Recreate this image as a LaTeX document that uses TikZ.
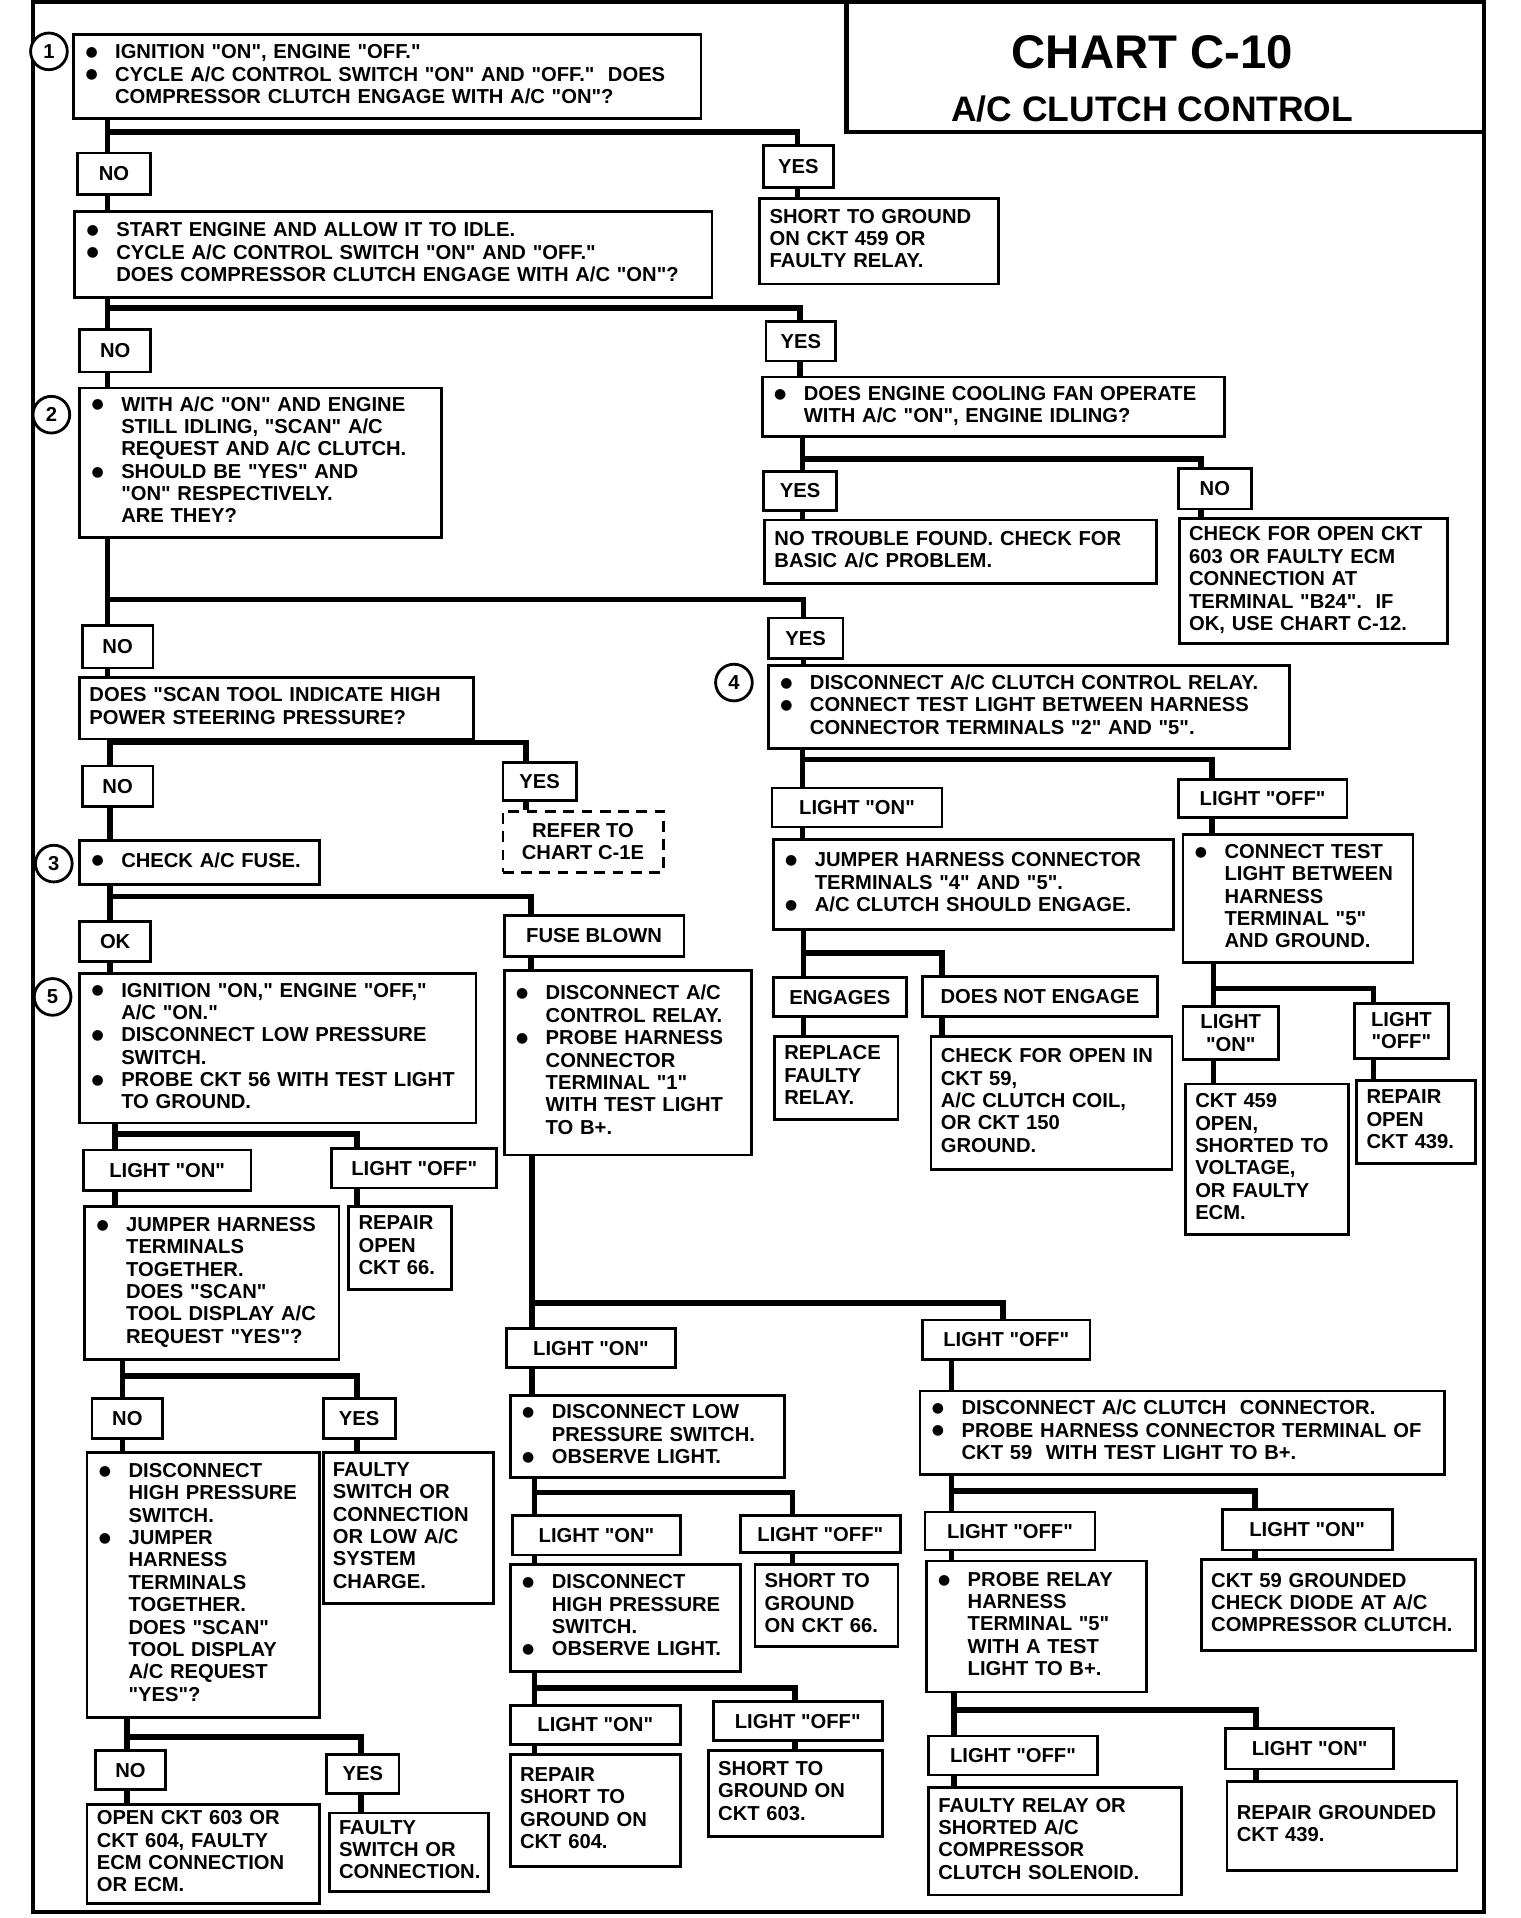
\documentclass[tikz,border=0pt]{standalone}
\usepackage{fontspec}
\setmainfont{Liberation Sans}[Ligatures=TeXOff]
\newfontfamily\dotfont{DejaVu Sans}
\newcommand\boxfont{\bfseries\fontsize{9.4}{10.4}\selectfont}
\newcommand\bitem{\makebox[0.52cm][l]{\hspace{1pt}\raisebox{1pt}{\dotfont\fontsize{6.5}{6.5}\selectfont ●}}}
\newcommand\bcont{\hspace*{0.52cm}}
\newcommand\boxlines[1]{\begin{tabular}{@{}l@{}}#1\end{tabular}}
\tikzset{
    frame/.style={line width=1.9pt},
    link/.style={line width=2.6pt},
    box/.style={draw, line width=1.3pt, fill=white, anchor=north west, inner xsep=0.16cm, inner ysep=1pt, font=\boxfont},
    tag/.style={draw, line width=1.3pt, fill=white, anchor=north west, inner sep=1pt, align=center, font=\boxfont},
    num/.style={circle, draw, line width=1.3pt, fill=white, minimum size=0.6cm, inner sep=0pt, font=\bfseries\fontsize{9.4}{10}\selectfont}
}

\begin{document}
\begin{tikzpicture}[
		x=0.02cm, y=-0.02cm,
		txt/.style 2 args={minimum width=#1*0.02cm, minimum height=#2*0.02cm, /utils/exec={\pgfmathsetlengthmacro\bxtw{#1*0.02cm-0.32cm}}, text width=\bxtw},
		wh/.style 2 args={minimum width=#1*0.02cm, minimum height=#2*0.02cm}
		]
		\useasboundingbox (0,0) rectangle (1243,1568);
		
		% --- FRAME AND TITLE ---
		\draw[frame] (27,2) rectangle (1213,1563);
		\draw[frame] (692,2) -- (692,108) -- (1213,108);
		\node[font=\bfseries\fontsize{22}{26}\selectfont] (chart) at (942,43) {CHART C-10};
		\node[font=\bfseries\fontsize{16.5}{20}\selectfont] (chartname) at (942,89) {A/C CLUTCH CONTROL};
		
		% --- STEP 1 ---
		\node[box, txt={513}{69}] (q1) at (59,27) {\boxlines{\bitem IGNITION "ON", ENGINE "OFF."\\ \bitem CYCLE A/C CONTROL SWITCH "ON" AND "OFF."\ \ DOES\\ \bcont COMPRESSOR CLUTCH ENGAGE WITH A/C "ON"?}};
		\node[tag, wh={60}{34}] (no1) at (62,124) {NO};
		\node[tag, wh={57}{34}] (yes1) at (623,118) {YES};
		\node[box, txt={195}{70}] (r1) at (620,161) {\boxlines{SHORT TO GROUND\\ ON CKT 459 OR\\ FAULTY RELAY.}};
		\node[box, txt={521}{70}] (q2) at (60,172) {\boxlines{\bitem START ENGINE AND ALLOW IT TO IDLE.\\ \bitem CYCLE A/C CONTROL SWITCH "ON" AND "OFF."\\ \bcont DOES COMPRESSOR CLUTCH ENGAGE WITH A/C "ON"?}};
		\node[tag, wh={58}{35}] (no2) at (64,268) {NO};
		\node[tag, wh={57}{32}] (yes2) at (625,262) {YES};
		
		% --- STEP 2 ---
		\node[box, txt={296}{122}] (q3) at (64,316) {\boxlines{\bitem WITH A/C "ON" AND ENGINE\\ \bcont STILL IDLING, "SCAN" A/C\\ \bcont REQUEST AND A/C CLUTCH.\\ \bitem SHOULD BE "YES" AND\\ \bcont "ON" RESPECTIVELY.\\ \bcont ARE THEY?}};
		\node[box, txt={378}{49}] (q4) at (622,307) {\boxlines{\bitem DOES ENGINE COOLING FAN OPERATE\\ \bcont WITH A/C "ON", ENGINE IDLING?}};
		\node[tag, wh={60}{32}] (yes4) at (623,384) {YES};
		\node[tag, wh={60}{33}] (no4) at (962,382) {NO};
		\node[box, txt={320}{52}] (r4a) at (624,424) {\boxlines{NO TROUBLE FOUND. CHECK FOR\\ BASIC A/C PROBLEM.}};
		\node[box, txt={219}{102}] (r4b) at (963,423) {\boxlines{CHECK FOR OPEN CKT\\ 603 OR FAULTY ECM\\ CONNECTION AT\\ TERMINAL "B24".\ \ IF\\ OK, USE CHART C-12.}};
		\node[tag, wh={58}{35}] (no3) at (66,510) {NO};
		\node[tag, wh={61}{33}] (yes3) at (627,504) {YES};
		
		% --- STEP 4 ---
		\node[box, txt={426}{68}] (q4b) at (627,543) {\boxlines{\bitem DISCONNECT A/C CLUTCH CONTROL RELAY.\\ \bitem CONNECT TEST LIGHT BETWEEN HARNESS\\ \bcont CONNECTOR TERMINALS "2" AND "5".}};
		\node[tag, wh={139}{32}] (lon4) at (630,643) {LIGHT "ON"};
		\node[tag, wh={138}{31}] (loff4) at (962,636) {LIGHT "OFF"};
		\node[box, txt={327}{74}] (jump4) at (631,685) {\boxlines{\bitem JUMPER HARNESS CONNECTOR\\ \bcont TERMINALS "4" AND "5".\\ \bitem A/C CLUTCH SHOULD ENGAGE.}};
		\node[box, txt={188}{105}] (ctest) at (966,681) {\boxlines{\bitem CONNECT TEST\\ \bcont LIGHT BETWEEN\\ \bcont HARNESS\\ \bcont TERMINAL "5"\\ \bcont AND GROUND.}};
		\node[tag, wh={109}{32}] (eng) at (631,798) {ENGAGES};
		\node[tag, wh={192}{33}] (dne) at (753,797) {DOES NOT ENGAGE};
		\node[box, txt={101}{68}] (repl) at (632,846) {\boxlines{REPLACE\\ FAULTY\\ RELAY.}};
		\node[box, txt={197}{109}] (chkopen) at (760,846) {\boxlines{CHECK FOR OPEN IN\\ CKT 59,\\ A/C CLUTCH COIL,\\ OR CKT 150\\ GROUND.}};
		\node[tag, wh={78}{43}] (lonc) at (966,822) {LIGHT\\"ON"};
		\node[tag, wh={77}{45}] (loffc) at (1106,819) {LIGHT\\"OFF"};
		\node[box, txt={133}{123}] (ckt459) at (968,885) {\boxlines{CKT 459\\ OPEN,\\ SHORTED TO\\ VOLTAGE,\\ OR FAULTY\\ ECM.}};
		\node[box, txt={97}{68}] (rep439) at (1108,882) {\boxlines{REPAIR\\ OPEN\\ CKT 439.}};
		
		% --- STEP 3: SCAN AND FUSE ---
		\node[box, txt={322}{50}] (scan) at (64,553) {\boxlines{DOES "SCAN TOOL INDICATE HIGH\\ POWER STEERING PRESSURE?}};
		\node[tag, wh={58}{33}] (no5) at (66,625) {NO};
		\node[tag, wh={60}{31}] (yes5) at (410,622) {YES};
		\node[tag, dash pattern=on 5pt off 3.5pt, wh={131}{50}] (refer) at (410,662) {REFER TO\\CHART C-1E};
		\node[box, txt={196}{36}] (fchk) at (64,686) {\boxlines{\bitem CHECK A/C FUSE.}};
		\node[tag, wh={58}{33}] (ok) at (64,752) {OK};
		\node[tag, wh={147}{34}] (blown) at (411,747) {FUSE BLOWN};
		
		% --- STEP 5 ---
		\node[box, txt={324}{122}] (q5) at (64,795) {\boxlines{\bitem IGNITION "ON," ENGINE "OFF,"\\ \bcont A/C "ON."\\ \bitem DISCONNECT LOW PRESSURE\\ \bcont SWITCH.\\ \bitem PROBE CKT 56 WITH TEST LIGHT\\ \bcont TO GROUND.}};
		\node[box, txt={202}{151}] (fact) at (411,792) {\boxlines{\bitem DISCONNECT A/C\\ \bcont CONTROL RELAY.\\ \bitem PROBE HARNESS\\ \bcont CONNECTOR\\ \bcont TERMINAL "1"\\ \bcont WITH TEST LIGHT\\ \bcont TO B+.}};
		\node[tag, wh={137}{33}] (lon5) at (67,939) {LIGHT "ON"};
		\node[tag, wh={135}{32}] (loff5) at (270,938) {LIGHT "OFF"};
		\node[box, txt={208}{125}] (jump5) at (68,985) {\boxlines{\bitem JUMPER HARNESS\\ \bcont TERMINALS\\ \bcont TOGETHER.\\ \bcont DOES "SCAN"\\ \bcont TOOL DISPLAY A/C\\ \bcont REQUEST "YES"?}};
		\node[box, txt={84}{68}] (rep66) at (284,985) {\boxlines{REPAIR\\ OPEN\\ CKT 66.}};
		\node[tag, wh={58}{33}] (no6) at (74,1142) {NO};
		\node[tag, wh={59}{33}] (yes6) at (263,1142) {YES};
		\node[box, txt={190}{217}] (dhigh) at (70,1186) {\boxlines{\bitem DISCONNECT\\ \bcont HIGH PRESSURE\\ \bcont SWITCH.\\ \bitem JUMPER\\ \bcont HARNESS\\ \bcont TERMINALS\\ \bcont TOGETHER.\\ \bcont DOES "SCAN"\\ \bcont TOOL DISPLAY\\ \bcont A/C REQUEST\\ \bcont "YES"?}};
		\node[box, txt={139}{124}] (flow) at (263,1186) {\boxlines{FAULTY\\ SWITCH OR\\ CONNECTION\\ OR LOW A/C\\ SYSTEM\\ CHARGE.}};
		\node[tag, wh={57}{32}] (no7) at (77,1430) {NO};
		\node[tag, wh={59}{32}] (yes7) at (266,1433) {YES};
		\node[box, txt={190}{81}] (open603) at (70,1474) {\boxlines{OPEN CKT 603 OR\\ CKT 604, FAULTY\\ ECM CONNECTION\\ OR ECM.}};
		\node[box, txt={130}{64}] (fconn) at (268,1481) {\boxlines{FAULTY\\ SWITCH OR\\ CONNECTION.}};
		
		% --- FUSE BLOWN BRANCH ---
		\node[tag, wh={138}{32}] (lon6) at (413,1085) {LIGHT "ON"};
		\node[tag, wh={137}{32}] (loff6) at (753,1078) {LIGHT "OFF"};
		\node[box, txt={224}{67}] (dlow) at (416,1140) {\boxlines{\bitem DISCONNECT LOW\\ \bcont PRESSURE SWITCH.\\ \bitem OBSERVE LIGHT.}};
		\node[tag, wh={137}{32}] (lon7) at (418,1238) {LIGHT "ON"};
		\node[tag, wh={131}{30}] (loff7) at (604,1238) {LIGHT "OFF"};
		\node[box, txt={188}{87}] (dhigh2) at (416,1278) {\boxlines{\bitem DISCONNECT\\ \bcont HIGH PRESSURE\\ \bcont SWITCH.\\ \bitem OBSERVE LIGHT.}};
		\node[box, txt={117}{67}] (s66) at (616,1278) {\boxlines{SHORT TO\\ GROUND\\ ON CKT 66.}};
		\node[tag, wh={139}{32}] (lon8) at (416,1393) {LIGHT "ON"};
		\node[tag, wh={138}{32}] (loff8) at (582,1390) {LIGHT "OFF"};
		\node[box, txt={139}{92}] (r604) at (416,1433) {\boxlines{REPAIR\\ SHORT TO\\ GROUND ON\\ CKT 604.}};
		\node[box, txt={142}{70}] (s603) at (578,1430) {\boxlines{SHORT TO\\ GROUND ON\\ CKT 603.}};
		
		\node[box, txt={429}{68}] (dclut) at (751,1136) {\boxlines{\bitem DISCONNECT A/C CLUTCH\ \ CONNECTOR.\\ \bitem PROBE HARNESS CONNECTOR TERMINAL OF\\ \bcont CKT 59\ \ WITH TEST LIGHT TO B+.}};
		\node[tag, wh={139}{31}] (loff9) at (755,1235) {LIGHT "OFF"};
		\node[tag, wh={139}{33}] (lon9) at (998,1233) {LIGHT "ON"};
		\node[box, txt={180}{107}] (probe) at (756,1275) {\boxlines{\bitem PROBE RELAY\\ \bcont HARNESS\\ \bcont TERMINAL "5"\\ \bcont WITH A TEST\\ \bcont LIGHT TO B+.}};
		\node[box, txt={224}{74}] (c59) at (981,1274) {\boxlines{CKT 59 GROUNDED\\ CHECK DIODE AT A/C\\ COMPRESSOR CLUTCH.}};
		\node[tag, wh={138}{32}] (loff10) at (758,1418) {LIGHT "OFF"};
		\node[tag, wh={137}{33}] (lon10) at (1001,1412) {LIGHT "ON"};
		\node[box, txt={207}{88}] (frel) at (758,1460) {\boxlines{FAULTY RELAY OR\\ SHORTED A/C\\ COMPRESSOR\\ CLUTCH SOLENOID.}};
		\node[box, txt={188}{73}] (rgnd) at (1002,1455) {\boxlines{REPAIR GROUNDED\\ CKT 439.}};
		
		% --- STEP NUMBERS ---
		\node[num] (n1) at (40,42) {1};
		\node[num] (n2) at (42,339) {2};
		\node[num] (n3) at (44,706) {3};
		\node[num] (n4) at (600,558) {4};
		\node[num] (n5) at (43,815) {5};
		
		% --- FORK POINTS ---
		\coordinate (b1l) at (88,108);    \coordinate (b1r) at (652,108);
		\coordinate (b2l) at (88,252);    \coordinate (b2r) at (654,252);
		\coordinate (b3l) at (656,375);   \coordinate (b3r) at (982,375);
		\coordinate (b4l) at (88,490);    \coordinate (b4r) at (657,490);
		\coordinate (b5l) at (656,621);   \coordinate (b5r) at (991,621);
		\coordinate (b6l) at (657,779);   \coordinate (b6r) at (770,779);
		\coordinate (b7l) at (992,808);   \coordinate (b7r) at (1123,808);
		\coordinate (b8l) at (90,607);    \coordinate (b8r) at (430,607);
		\coordinate (b9l) at (90,733);    \coordinate (b9r) at (434,733);
		\coordinate (b10l) at (94,927);   \coordinate (b10r) at (292,927);
		\coordinate (b11l) at (100,1125); \coordinate (b11r) at (292,1125);
		\coordinate (b12l) at (104,1420); \coordinate (b12r) at (295,1420);
		\coordinate (b13l) at (435,1065); \coordinate (b13r) at (820,1065);
		\coordinate (b14l) at (437,1220); \coordinate (b14r) at (648,1220);
		\coordinate (b15l) at (437,1380); \coordinate (b15r) at (650,1380);
		\coordinate (b16l) at (778,1219); \coordinate (b16r) at (1026,1219);
		\coordinate (b17l) at (780,1398); \coordinate (b17r) at (1027,1398);
		
		% --- CONNECTORS ---
		\draw[link] (b1l |- q1.south) -- (b1l |- no1.north);
		\draw[link] (b1l) -- (b1r) -- (b1r |- yes1.north);
		\draw[link] (b1l |- no1.south) -- (b1l |- q2.north);
		\draw[link] (b1r |- yes1.south) -- (b1r |- r1.north);
		
		\draw[link] (b2l |- q2.south) -- (b2l |- no2.north);
		\draw[link] (b2l) -- (b2r) -- (b2r |- yes2.north);
		\draw[link] (b2l |- no2.south) -- (b2l |- q3.north);
		\draw[link] (b2r |- yes2.south) -- (b2r |- q4.north);
		
		\draw[link] (b3l |- q4.south) -- (b3l |- yes4.north);
		\draw[link] (b3l) -- (b3r) -- (b3r |- no4.north);
		\draw[link] (b3l |- yes4.south) -- (b3l |- r4a.north);
		\draw[link] (b3r |- no4.south) -- (b3r |- r4b.north);
		
		\draw[link] (b4l |- q3.south) -- (b4l |- no3.north);
		\draw[link] (b4l) -- (b4r) -- (b4r |- yes3.north);
		\draw[link] (b4l |- no3.south) -- (b4l |- scan.north);
		\draw[link] (b4r |- yes3.south) -- (b4r |- q4b.north);
		
		\draw[link] (b5l |- q4b.south) -- (b5l |- lon4.north);
		\draw[link] (b5l) -- (b5r) -- (b5r |- loff4.north);
		\draw[link] (b5l |- lon4.south) -- (b5l |- jump4.north);
		\draw[link] (b5r |- loff4.south) -- (b5r |- ctest.north);
		
		\draw[link] (b6l |- jump4.south) -- (b6l |- eng.north);
		\draw[link] (b6l) -- (b6r) -- (b6r |- dne.north);
		\draw[link] (b6l |- eng.south) -- (b6l |- repl.north);
		\draw[link] (b6r |- dne.south) -- (b6r |- chkopen.north);
		
		\draw[link] (b7l |- ctest.south) -- (b7l |- lonc.north);
		\draw[link] (b7l) -- (b7r) -- (b7r |- loffc.north);
		\draw[link] (b7l |- lonc.south) -- (b7l |- ckt459.north);
		\draw[link] (b7r |- loffc.south) -- (b7r |- rep439.north);
		
		\draw[link] (b8l |- scan.south) -- (b8l |- no5.north);
		\draw[link] (b8l) -- (b8r) -- (b8r |- yes5.north);
		\draw[link] (b8l |- no5.south) -- (b8l |- fchk.north);
		\draw[link] (b8r |- yes5.south) -- (b8r |- refer.north);
		
		\draw[link] (b9l |- fchk.south) -- (b9l |- ok.north);
		\draw[link] (b9l) -- (b9r) -- (b9r |- blown.north);
		\draw[link] (b9l |- ok.south) -- (b9l |- q5.north);
		\draw[link] (b9r |- blown.south) -- (b9r |- fact.north);
		
		\draw[link] (b10l |- q5.south) -- (b10l |- lon5.north);
		\draw[link] (b10l) -- (b10r) -- (b10r |- loff5.north);
		\draw[link] (b10l |- lon5.south) -- (b10l |- jump5.north);
		\draw[link] (b10r |- loff5.south) -- (b10r |- rep66.north);
		
		\draw[link] (b11l |- jump5.south) -- (b11l |- no6.north);
		\draw[link] (b11l) -- (b11r) -- (b11r |- yes6.north);
		\draw[link] (b11l |- no6.south) -- (b11l |- dhigh.north);
		\draw[link] (b11r |- yes6.south) -- (b11r |- flow.north);
		
		\draw[link] (b12l |- dhigh.south) -- (b12l |- no7.north);
		\draw[link] (b12l) -- (b12r) -- (b12r |- yes7.north);
		\draw[link] (b12l |- no7.south) -- (b12l |- open603.north);
		\draw[link] (b12r |- yes7.south) -- (b12r |- fconn.north);
		
		\draw[link] (b13l |- fact.south) -- (b13l |- lon6.north);
		\draw[link] (b13l) -- (b13r) -- (b13r |- loff6.north);
		\draw[link] (b13l |- lon6.south) -- (b13l |- dlow.north);
		\draw[link] (b16l |- loff6.south) -- (b16l |- dclut.north);
		
		\draw[link] (b14l |- dlow.south) -- (b14l |- lon7.north);
		\draw[link] (b14l) -- (b14r) -- (b14r |- loff7.north);
		\draw[link] (b14l |- lon7.south) -- (b14l |- dhigh2.north);
		\draw[link] (b14r |- loff7.south) -- (b14r |- s66.north);
		
		\draw[link] (b15l |- dhigh2.south) -- (b15l |- lon8.north);
		\draw[link] (b15l) -- (b15r) -- (b15r |- loff8.north);
		\draw[link] (b15l |- lon8.south) -- (b15l |- r604.north);
		\draw[link] (b15r |- loff8.south) -- (b15r |- s603.north);
		
		\draw[link] (b16l |- dclut.south) -- (b16l |- loff9.north);
		\draw[link] (b16l) -- (b16r) -- (b16r |- lon9.north);
		\draw[link] (b16l |- loff9.south) -- (b16l |- probe.north);
		\draw[link] (b16r |- lon9.south) -- (b16r |- c59.north);
		
		\draw[link] (b17l |- probe.south) -- (b17l |- loff10.north);
		\draw[link] (b17l) -- (b17r) -- (b17r |- lon10.north);
		\draw[link] (b17l |- loff10.south) -- (b17l |- frel.north);
		\draw[link] (b17r |- lon10.south) -- (b17r |- rgnd.north);
		
	\end{tikzpicture}
\end{document}
